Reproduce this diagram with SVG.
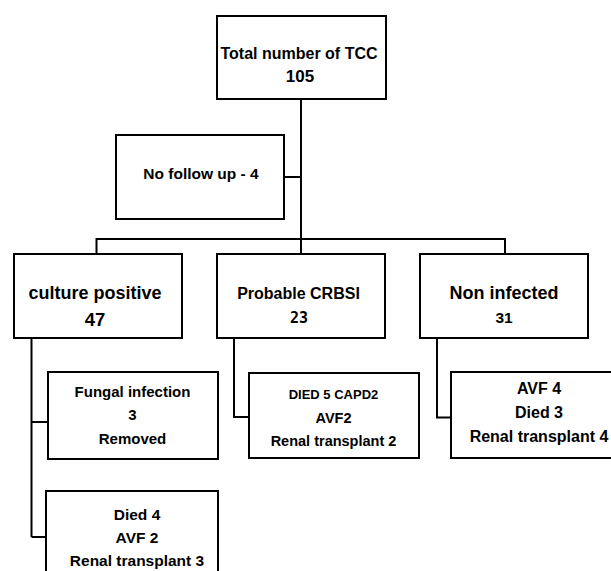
<svg xmlns="http://www.w3.org/2000/svg" width="611" height="571" viewBox="0 0 611 571">
<style>
.box{fill:#fff;stroke:#000;stroke-width:2}
.t{font-family:"Liberation Sans",Arial,sans-serif;font-weight:bold;fill:#000;text-anchor:middle}
.m{font-family:"DejaVu Sans Mono","Liberation Mono",monospace;font-weight:bold;fill:#000;text-anchor:middle}
.c{fill:none;stroke:#000;stroke-width:2}
</style>
<rect width="611" height="571" fill="#fff"/>
<g id="connectors">
<path class="c" d="M301,99V254M284,177H301M96.5,239H505M96.5,238V254M505,238V254"/>
<path class="c" d="M31.5,338V537M31.5,422H48M31.5,537H46"/>
<path class="c" d="M234,338V417H249"/>
<path class="c" d="M437,338V417.5H451"/>
</g>
<g id="total">
<rect class="box" x="217" y="16" width="169" height="83"/>
<text class="t" x="299" y="59" font-size="16">Total number of TCC</text>
<text class="t" x="300" y="82" font-size="17">105</text>
</g>
<g id="nofollow">
<rect class="box" x="116" y="135" width="168" height="84"/>
<text class="t" x="201" y="179" font-size="15.5">No follow up - 4</text>
</g>
<g id="culture">
<rect class="box" x="14" y="254" width="168" height="84"/>
<text class="t" x="95" y="299" font-size="18">culture positive</text>
<text class="t" x="95" y="326" font-size="18.5">47</text>
</g>
<g id="probable">
<rect class="box" x="217" y="254" width="168" height="84"/>
<text class="t" x="298.5" y="299" font-size="16">Probable CRBSI</text>
<text class="m" x="299" y="323" font-size="15">23</text>
</g>
<g id="noninfected">
<rect class="box" x="420" y="254" width="168" height="84"/>
<text class="t" x="504" y="299" font-size="18">Non infected</text>
<text class="t" x="504" y="322.5" font-size="15.5">31</text>
</g>
<g id="fungal">
<rect class="box" x="48" y="372" width="170" height="87"/>
<text class="t" x="132.5" y="397" font-size="15">Fungal infection</text>
<text class="t" x="132.5" y="420" font-size="15">3</text>
<text class="t" x="132.5" y="444" font-size="15">Removed</text>
</g>
<g id="died5">
<rect class="box" x="249" y="373" width="170" height="85"/>
<text class="t" x="333.5" y="399" font-size="13">DIED 5 CAPD2</text>
<text class="t" x="333.5" y="423" font-size="14.5">AVF2</text>
<text class="t" x="333.5" y="446" font-size="14.5">Renal transplant 2</text>
</g>
<g id="avf4">
<rect class="box" x="451" y="372" width="176" height="86"/>
<text class="t" x="539" y="393.5" font-size="16">AVF 4</text>
<text class="t" x="539" y="418" font-size="16">Died 3</text>
<text class="t" x="539" y="442" font-size="16">Renal transplant 4</text>
</g>
<g id="died4">
<rect class="box" x="46" y="491" width="172" height="110"/>
<text class="t" x="137" y="520" font-size="15.5">Died 4</text>
<text class="t" x="137" y="543" font-size="15.5">AVF 2</text>
<text class="t" x="137" y="566" font-size="15.5">Renal transplant 3</text>
</g>
</svg>
